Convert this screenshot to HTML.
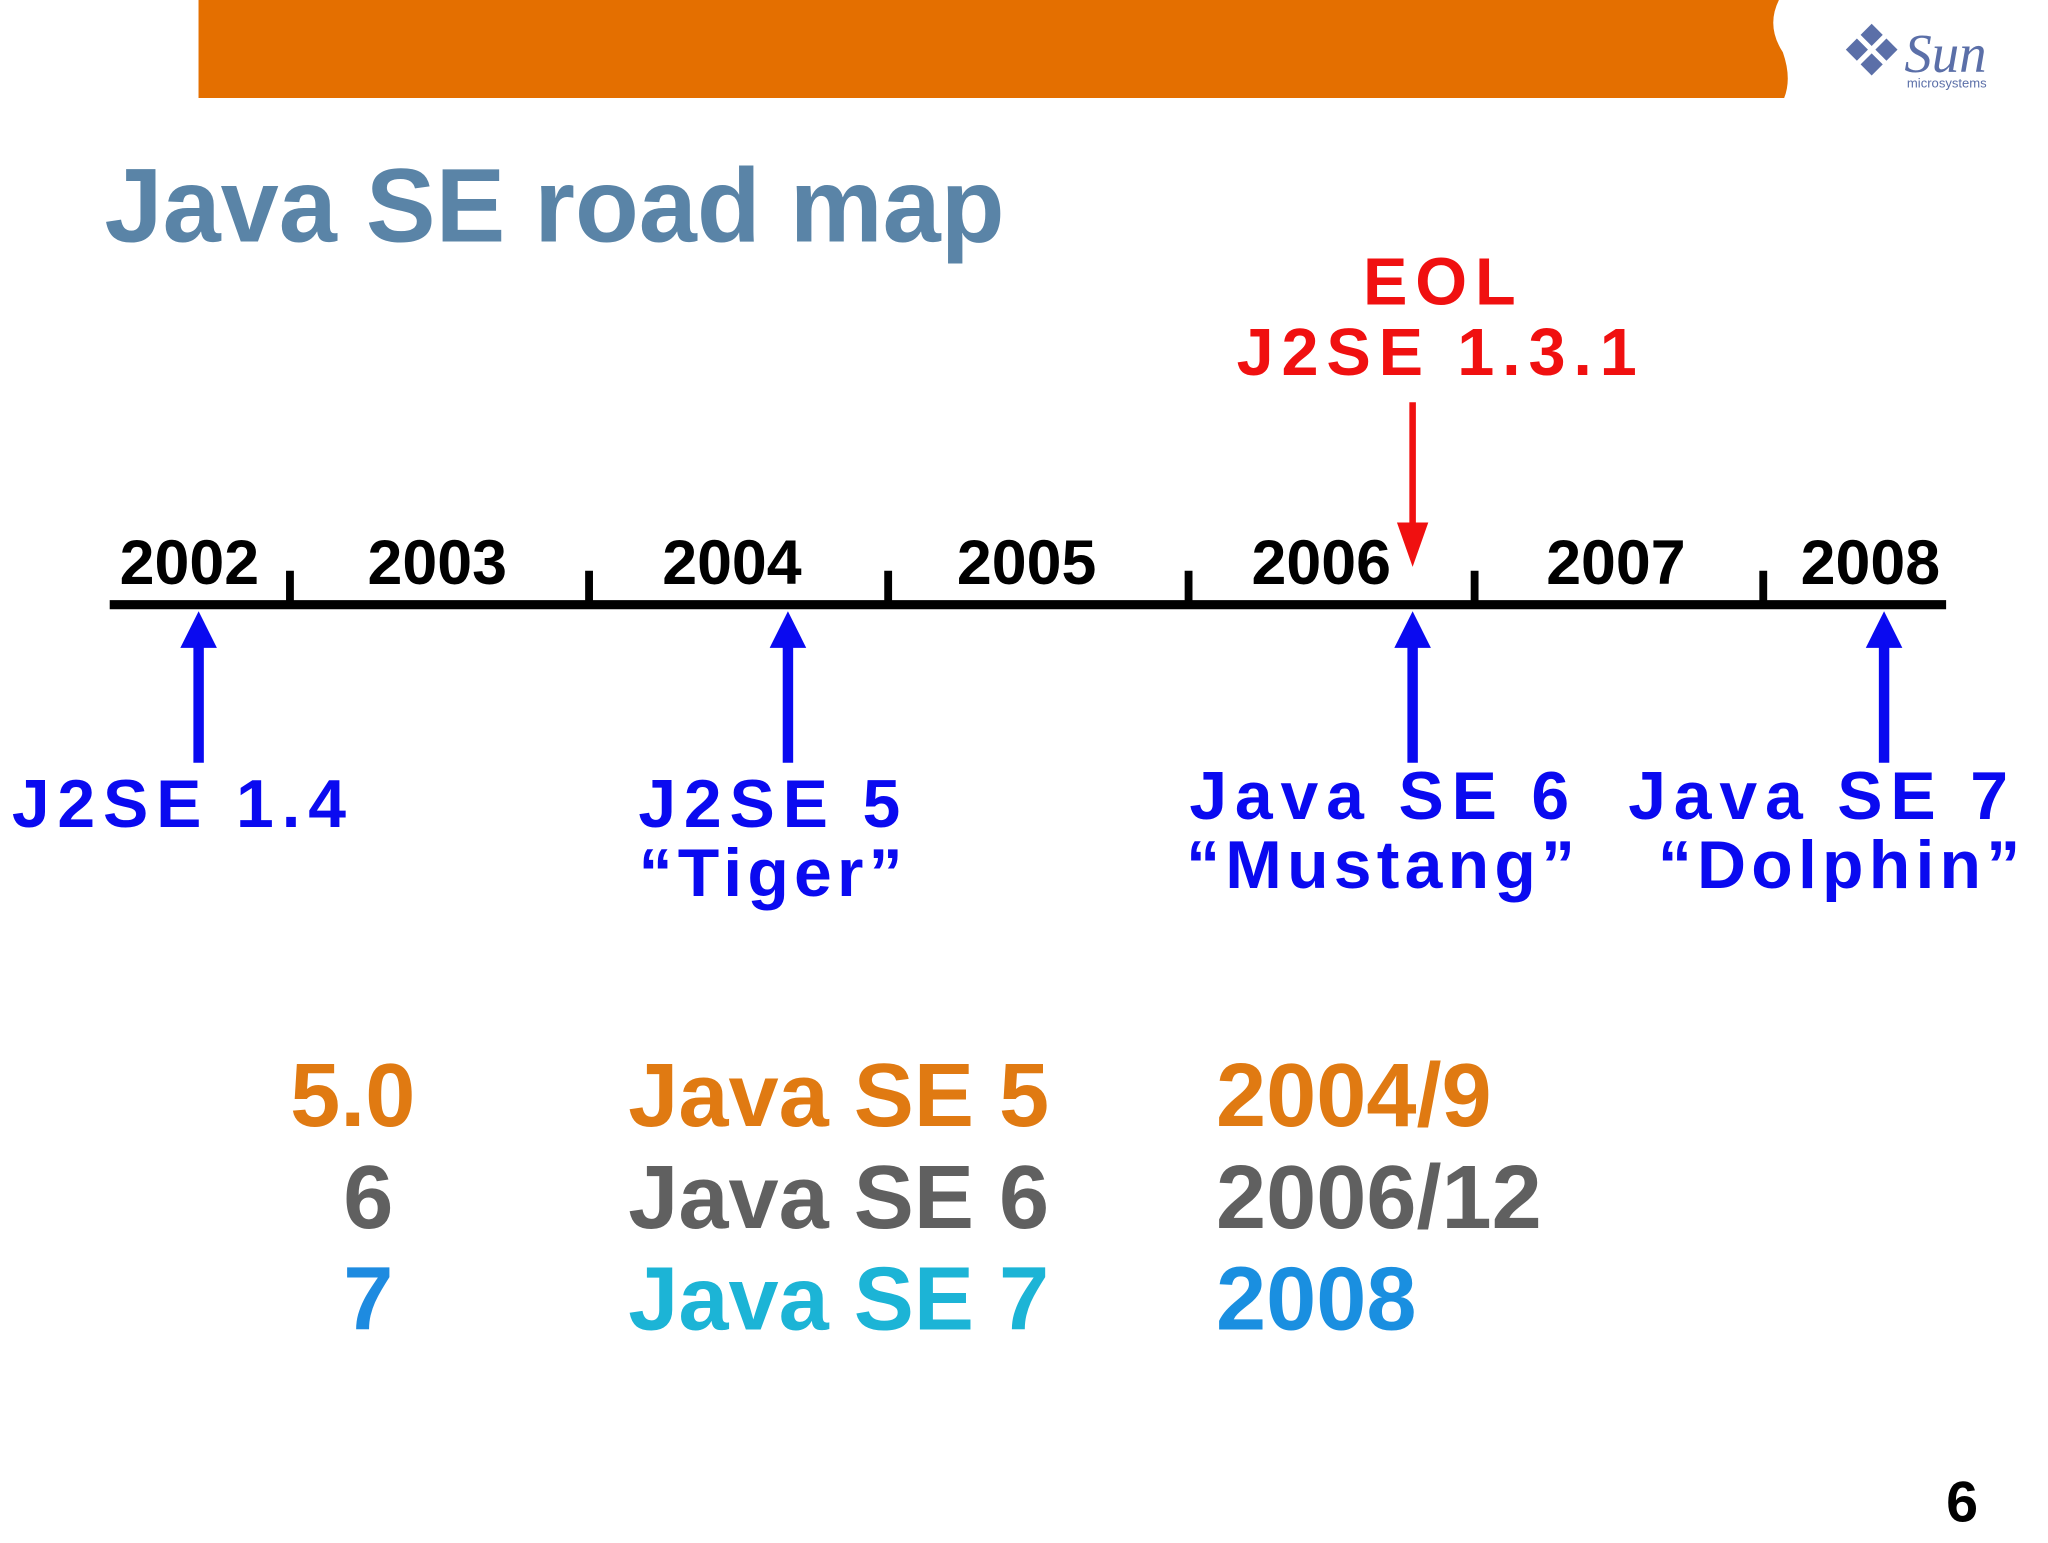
<!DOCTYPE html>
<html><head><meta charset="utf-8">
<style>
html,body{margin:0;padding:0;background:#fff;width:2048px;height:1536px;overflow:hidden;}
#wrap{position:absolute;left:0;top:0;width:1568px;height:1176px;transform:scale(1.30612);transform-origin:0 0;}
svg text{font-family:"Liberation Sans",Arial,sans-serif;font-weight:bold;}
</style></head><body>
<div id="wrap">
<svg id="s" width="1568" height="1176" viewBox="0 0 1568 1176">
  <path d="M152 0 H1362 Q1352 20 1365 40 Q1372 60 1366 75 H152 Z" fill="#E46F00"/>
  <g>
    <g transform="translate(1433,38) rotate(45)" fill="#5B6FA8">
      <rect x="-14" y="-14" width="12" height="12"/><rect x="2" y="-14" width="12" height="12"/>
      <rect x="-14" y="2" width="12" height="12"/><rect x="2" y="2" width="12" height="12"/>
    </g>
    <text x="1458" y="55" font-size="42" fill="#5B6FA8" font-style="italic" style="font-family:'Liberation Serif',serif;font-weight:normal">Sun</text>
    <text x="1460" y="67" font-size="10" fill="#5B6FA8" style="font-weight:normal">microsystems</text>
  </g>
  <text x="80" y="185" font-size="80" fill="#5A84A7">Java SE road map</text>
  <g id="tl"></g>
  <g font-size="69">
    <text x="318" y="862" text-anchor="end" fill="#E07A12">5.0</text>
    <text x="481" y="862" fill="#E07A12">Java SE 5</text>
    <text x="931" y="862" fill="#E07A12">2004/9</text>
    <text x="282" y="940" text-anchor="middle" fill="#606060">6</text>
    <text x="481" y="940" fill="#606060">Java SE 6</text>
    <text x="931" y="940" fill="#606060">2006/12</text>
    <text x="282" y="1018" text-anchor="middle" fill="#1E8BE0">7</text>
    <text x="481" y="1018" fill="#1CB4D6">Java SE 7</text>
    <text x="931" y="1018" fill="#1A8FE0">2008</text>
  </g>
  <text x="1490" y="1165" font-size="44" fill="#000">6</text>
</svg>
</div>
<script>
var years=[2002,2003,2004,2005,2006,2007,2008];
var eventNames=["J2SE 1.4","J2SE 5","Java SE 6","Java SE 7"];
var eventSub=["","“Tiger”","“Mustang”","“Dolphin”"];
var eventTimes=[2002.69,2004.69,2006.81,2008.41];
var eolTime=2006.81;
var NS="http://www.w3.org/2000/svg";
var g=document.getElementById('tl');
function x(t){return 222+(t-2003)*225.6;}
function mk(tag,attrs,txt){var e=document.createElementNS(NS,tag);for(var k in attrs)e.setAttribute(k,attrs[k]);if(txt!==undefined)e.textContent=txt;g.appendChild(e);return e;}
var line=mk('line',{x1:84,x2:1490,y1:463,y2:463,stroke:'#000','stroke-width':7});


var tickX=[222,451,680,910,1129,1350];
for(var i=1;i<years.length;i++){
  var tx=tickX[i-1];
  var tk=mk('line',{x1:tx,x2:tx,y1:437,y2:462,stroke:'#000','stroke-width':6});
  
  
}
years.forEach(function(y){
  var cx=Math.min(1432,Math.max(145,x(y+0.5)));
  var t=mk('text',{x:cx,y:447,'font-size':48,'text-anchor':'middle',fill:'#000'},String(y));
  
  
});
eventTimes.forEach(function(t,i){
  var ax=x(t);
  var a=mk('line',{x1:ax,x2:ax,y1:490,y2:584,stroke:'#0A0AF0','stroke-width':8});
  
  
  var h=mk('polygon',{points:(ax-14)+',496 '+ax+',468 '+(ax+14)+',496',fill:'#0A0AF0'});
  
  
  var cx=[140,592,1059,1395][i]; var by=i<2?633:627;
  var l=mk('text',{x:cx,y:by,'font-size':52,'text-anchor':'middle',fill:'#0A0AF0','letter-spacing':6},eventNames[i]);
  
  
  if(eventSub[i]){
    var s=mk('text',{x:cx+(i==3?15:0),y:by+53,'font-size':52,'text-anchor':'middle',fill:'#0A0AF0','letter-spacing':4},eventSub[i]);
    
    
  }
});
var ex=x(eolTime);
var el=mk('line',{x1:ex,x2:ex,y1:308,y2:405,stroke:'#F01010','stroke-width':5});


var eh=mk('polygon',{points:(ex-12)+',400 '+ex+',434 '+(ex+12)+',400',fill:'#F01010'});


var e1=mk('text',{x:1105,y:233,'font-size':51,'text-anchor':'middle',fill:'#F01010','letter-spacing':6},'EOL');


var e2=mk('text',{x:1103,y:287,'font-size':51,'text-anchor':'middle',fill:'#F01010','letter-spacing':6},'J2SE 1.3.1');


</script>
</body></html>
